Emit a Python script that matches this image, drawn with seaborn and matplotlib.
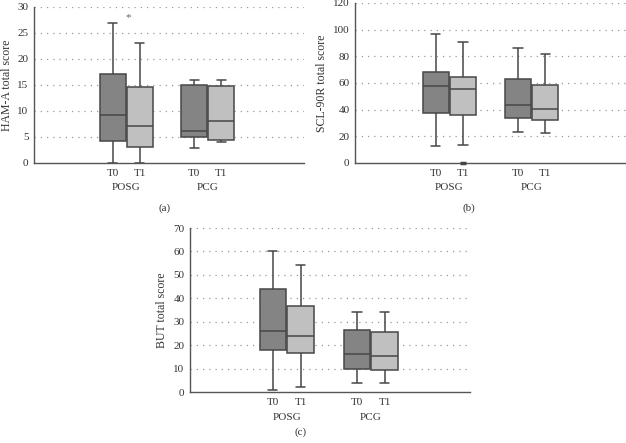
import numpy as np
import pandas as pd
import matplotlib
matplotlib.use("Agg")
import matplotlib.pyplot as plt
import matplotlib.transforms as mtransforms
import seaborn as sns

groups = ["POSG", "PCG"]
times = ["T0", "T1"]

# five-number summaries (min, Q1, median, Q3, max) per group/time
ham_posg_t0 = [0, 4.3, 9.2, 17.1, 27]
ham_posg_t1 = [0, 3.1, 7.1, 14.6, 23]
ham_pcg_t0 = [2.9, 5.0, 6.2, 15.0, 16]
ham_pcg_t1 = [4.1, 4.5, 8.1, 14.9, 16]

scl_posg_t0 = [13, 37.7, 57.5, 68.3, 96.5]
scl_posg_t1 = [13.3, 36.3, 55.3, 64.7, 91]
scl_pcg_t0 = [23, 34, 43.5, 63, 86.5]
scl_pcg_t1 = [22.3, 32, 40.5, 58.5, 81.5]
scl_outlier = [0]  # POSG T1

but_posg_t0 = [1, 18, 26.2, 43.8, 60]
but_posg_t1 = [2, 16.5, 24, 36.6, 54]
but_pcg_t0 = [4, 10, 16.4, 26.6, 34.3]
but_pcg_t1 = [4, 9.3, 15.4, 25.7, 34.3]

ham_star = 28

ylabels = ["HAM-A total score", "SCL-90R total score", "BUT total score"]
yticks = [np.arange(0, 31, 5), np.arange(0, 121, 20), np.arange(0, 71, 10)]
panel_labels = ["(a)", "(b)", "(c)"]


def make_df(p0, p1, c0, c1):
    rows = []
    for g, t, vals in [("POSG", "T0", p0), ("POSG", "T1", p1),
                       ("PCG", "T0", c0), ("PCG", "T1", c1)]:
        for v in vals:
            rows.append({"group": g, "time": t, "value": v})
    return pd.DataFrame(rows)


dfs = [
    make_df(ham_posg_t0, ham_posg_t1, ham_pcg_t0, ham_pcg_t1),
    make_df(scl_posg_t0, scl_posg_t1, scl_pcg_t0, scl_pcg_t1),
    make_df(but_posg_t0, but_posg_t1, but_pcg_t0, but_pcg_t1),
]

sns.set_style("white")
plt.rcParams["font.family"] = ["Liberation Serif", "DejaVu Serif"]

fig = plt.figure(figsize=(6.26, 4.43), dpi=100)
W, H = 626, 443
boxes = [(34, 7, 304, 163), (355, 3, 626, 163), (190, 228, 470, 392)]
xlims = [(-1.13, 2.18), (-1.15, 2.15), (-1.15, 2.18)]
ylabel_right = [13, 328, 168]
plabel_pos = [(165, 208), (469, 208), (301, 432)]

palette = {"T0": "#848484", "T1": "#c0c0c0"}
edge = "#474747"
off = 0.165

for i in range(3):
    l, t, r, b = boxes[i]
    ax = fig.add_axes([l / W, (H - b) / H, (r - l) / W, (b - t) / H])
    sns.boxplot(data=dfs[i], x="group", y="value", hue="time", order=groups,
                hue_order=times, palette=palette, whis=(0, 100), width=0.66,
                gap=0.04, linewidth=1.1, linecolor=edge, legend=False, ax=ax,
                saturation=1, capwidths=0.11)
    ax.set_xlim(*xlims[i])
    ax.set_ylim(yticks[i][0], yticks[i][-1])
    ax.set_yticks(yticks[i])
    ax.set_yticklabels([str(v) for v in yticks[i]], fontsize=8, color="#333333")
    ax.set_xlabel("")
    ax.set_ylabel(ylabels[i], fontsize=8.5, color="#333333")
    ax.yaxis.set_label_coords((ylabel_right[i] - l) / (r - l), 0.5)
    for yv in yticks[i][1:]:
        ax.axhline(yv, color="#9a9a9a", lw=0.9, ls=(0, (1, 4)), zorder=0)
    pos = []
    labs = []
    for gi in range(len(groups)):
        for ti, tname in enumerate(times):
            pos.append(gi + (off if ti else -off))
            labs.append(tname)
    ax.set_xticks(pos)
    ax.set_xticklabels(labs, fontsize=8, color="#333333")
    ax.tick_params(axis="both", length=0, pad=4)
    trans = mtransforms.blended_transform_factory(ax.transData, ax.transAxes)
    for gi, g in enumerate(groups):
        ax.text(gi, -0.125, g, transform=trans, ha="center", va="top",
                fontsize=8, color="#333333")
    for s in ["top", "right"]:
        ax.spines[s].set_visible(False)
    for s in ["left", "bottom"]:
        ax.spines[s].set_color("#555555")
        ax.spines[s].set_linewidth(1.0)
    ax.set_facecolor("white")
    if i == 0:
        ax.text(0 + 0.02, ham_star, "*", ha="center", va="center",
                fontsize=8, color="#666666")
    if i == 1:
        ax.plot([off] * len(scl_outlier), scl_outlier, marker="_",
                markersize=5, mew=2.5, color="#444444", ls="none",
                clip_on=False, zorder=5)
    fig.text(plabel_pos[i][0] / W, 1 - plabel_pos[i][1] / H, panel_labels[i],
             ha="center", va="center", fontsize=8, color="#333333")

fig.savefig("out.png", dpi=100, facecolor="white")
